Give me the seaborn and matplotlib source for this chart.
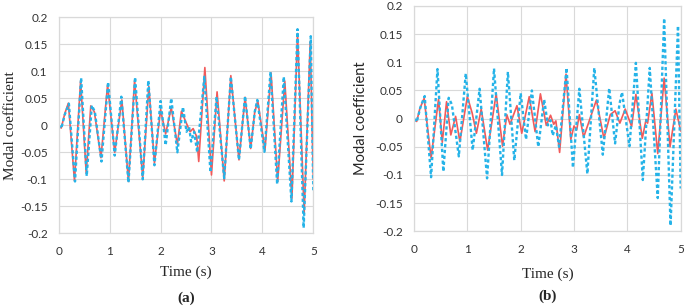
import numpy as np
import pandas as pd
import matplotlib
matplotlib.use("Agg")
import matplotlib.pyplot as plt
import seaborn as sns

# reference modal coefficient (blue dotted, same in both panels) - peaks/troughs
ref_t = [0, 0.05, 0.12, 0.20, 0.32, 0.44, 0.55, 0.65, 0.71, 0.84, 0.97, 1.10, 1.23, 1.37,
         1.50, 1.65, 1.76, 1.88, 2.00, 2.10, 2.21, 2.33, 2.44, 2.51, 2.56, 2.60, 2.66, 2.72,
         2.86, 2.98, 3.10, 3.25, 3.38, 3.54, 3.66, 3.77, 3.85, 3.90, 4.04, 4.16, 4.29, 4.42,
         4.57, 4.69, 4.81, 4.95, 5.00]
ref_v = [0, -0.006, 0.020, 0.040, -0.104, 0.088, -0.094, 0.037, 0.025, -0.067, 0.080, -0.056,
         0.053, -0.106, 0.089, -0.100, 0.083, -0.074, 0.045, -0.037, 0.050, -0.050, 0.034,
         -0.012, -0.003, -0.030, -0.012, -0.050, 0.090, -0.087, 0.053, -0.098, 0.090, -0.064,
         0.054, -0.044, 0.025, 0.047, -0.049, 0.099, -0.109, 0.090, -0.141, 0.178, -0.190,
         0.165, -0.124]

# panel (a) estimate (red)
red_a_t = [0, 0.05, 0.12, 0.19, 0.31, 0.43, 0.54, 0.63, 0.70, 0.83, 0.96, 1.10, 1.24, 1.37,
           1.49, 1.65, 1.77, 1.88, 2.00, 2.10, 2.21, 2.33, 2.41, 2.48, 2.58, 2.64, 2.71, 2.75,
           2.87, 3.00, 3.11, 3.25, 3.38, 3.54, 3.66, 3.77, 3.85, 3.91, 4.05, 4.17, 4.30, 4.44,
           4.58, 4.69, 4.82, 4.94, 5.00]
red_a_v = [0, -0.005, 0.022, 0.041, -0.103, 0.082, -0.088, 0.036, 0.025, -0.060, 0.075, -0.050,
           0.047, -0.104, 0.083, -0.097, 0.072, -0.070, 0.029, -0.016, 0.033, -0.036, 0.026,
           0.010, -0.012, -0.006, -0.021, -0.067, 0.107, -0.092, 0.062, -0.103, 0.092, -0.064,
           0.052, -0.043, 0.025, 0.045, -0.046, 0.097, -0.104, 0.082, -0.135, 0.170, -0.163,
           0.155, -0.100]

# panel (b) estimate (red)
red_b_t = [0, 0.05, 0.11, 0.19, 0.32, 0.46, 0.53, 0.61, 0.69, 0.78, 0.86, 1.00, 1.09, 1.17,
           1.26, 1.38, 1.54, 1.66, 1.74, 1.80, 1.93, 2.02, 2.16, 2.27, 2.37, 2.48, 2.56, 2.62,
           2.66, 2.73, 2.85, 2.94, 3.00, 3.05, 3.10, 3.18, 3.42, 3.56, 3.68, 3.77, 3.86, 3.96,
           4.08, 4.16, 4.28, 4.35, 4.38, 4.46, 4.57, 4.69, 4.80, 4.91, 5.00]
red_b_v = [0, -0.005, 0.018, 0.036, -0.070, 0.035, -0.042, 0.030, -0.029, 0.004, -0.041, 0.039,
           0.010, -0.026, 0.017, -0.056, 0.044, -0.049, 0.007, -0.010, 0.023, -0.026, 0.039,
           -0.023, 0.044, -0.012, 0.006, -0.010, -0.004, -0.060, 0.079, -0.037, -0.013, -0.020,
           0.007, -0.033, 0.033, -0.035, 0.007, 0.014, -0.008, 0.017, -0.014, 0.043, -0.035,
           -0.002, -0.008, 0.045, -0.062, 0.072, -0.050, 0.017, -0.022]

yticks = [0.2, 0.15, 0.1, 0.05, 0, -0.05, -0.1, -0.15, -0.2]
ytick_labels = ["0.2", "0.15", "0.1", "0.05", "0", "-0.05", "-0.1", "-0.15", "-0.2"]
xticks = [0, 1, 2, 3, 4, 5]

sns.set_style("white")
plt.rcParams['font.family'] = ['Lato', 'DejaVu Sans']

RED = "#F25A5A"
BLUE = "#25B3E8"
GRID = "#D9D9D9"

fig = plt.figure(figsize=(6.85, 3.07), dpi=100)
ax_a = fig.add_axes([0.0857, 0.240, 0.3717, 0.7036])
ax_b = fig.add_axes([0.6044, 0.2466, 0.3893, 0.7340])

panels = [(ax_a, red_a_t, red_a_v, "(a)", "serif"), (ax_b, red_b_t, red_b_v, "(b)", "sans")]

for ax, rt, rv, tag, yfont in panels:
    sns.lineplot(x=rt, y=rv, ax=ax, color=RED, lw=1.2, sort=False, estimator=None,
                 solid_joinstyle="round")
    sns.lineplot(x=ref_t, y=ref_v, ax=ax, color=BLUE, lw=1.7, sort=False, estimator=None,
                 linestyle=(0, (1.4, 1.1)), dash_joinstyle="round")
    ax.set_xlim(0, 5)
    ax.set_ylim(-0.2, 0.2)
    ax.set_xticks(xticks)
    ax.set_yticks(yticks)
    ax.set_yticklabels(ytick_labels)
    ax.tick_params(axis="y", length=0, labelsize=8.5, colors="#333333", pad=8)
    ax.tick_params(axis="x", length=0, labelsize=8.5, colors="#333333", pad=9)
    ax.grid(True, color=GRID, lw=0.8)
    ax.set_axisbelow(True)
    for s in ax.spines.values():
        s.set_color(GRID)
        s.set_linewidth(0.9)
    if yfont == "serif":
        ax.set_xlabel("Time (s)", family="Liberation Serif", fontsize=11, labelpad=6)
        ax.set_ylabel("Modal coefficient", family="Liberation Serif", fontsize=11)
        ax.text(0.5, -0.30, tag, transform=ax.transAxes, ha="center", va="center",
                family="Liberation Serif", fontweight="bold", fontsize=11)
        ax.yaxis.set_label_coords(-0.163, 0.5)
    else:
        ax.set_xlabel("Time (s)", family="Liberation Serif", fontsize=11, labelpad=9)
        ax.set_ylabel("Modal coefficient", fontsize=10.5)
        ax.text(0.5, -0.29, tag, transform=ax.transAxes, ha="center", va="center",
                family="Liberation Serif", fontweight="bold", fontsize=11)
        ax.yaxis.set_label_coords(-0.172, 0.5)

fig.savefig("out.png", dpi=100)
